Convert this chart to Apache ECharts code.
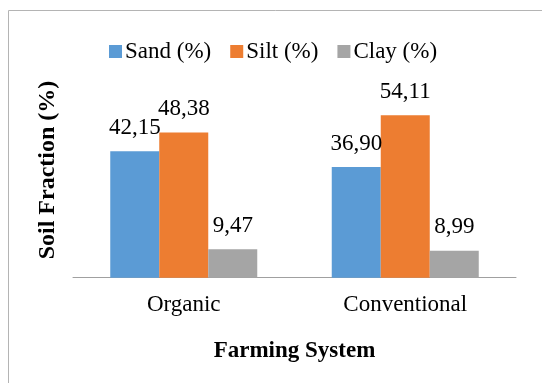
<!DOCTYPE html>
<html>
<head>
<meta charset="utf-8">
<style>
  html, body { margin: 0; padding: 0; background: #fff; }
  #chart { width: 542px; height: 383px; }
</style>
<script src="https://cdn.jsdelivr.net/npm/echarts@6/dist/echarts.min.js"></script>
</head>
<body>
<div id="chart"></div>
<script>
// Soil texture fractions by farming system
const categories = ['Organic', 'Conventional'];
const seriesNames = ['Sand (%)', 'Silt (%)', 'Clay (%)'];
const sand = [42.15, 36.90];
const silt = [48.38, 54.11];
const clay = [9.47, 8.99];
const colors = ['#5B9BD5', '#ED7D31', '#A5A5A5'];

const FONT = "'Liberation Serif', 'Times New Roman', serif";

const chart = echarts.init(document.getElementById('chart'), null, { renderer: 'canvas' });

function makeSeries(name, data, color) {
  return {
    name: name,
    type: 'bar',
    data: data,
    barWidth: 49,
    barGap: '0%',
    itemStyle: { color: color },
    label: {
      show: true,
      position: 'top',
      distance: 12,
      fontFamily: FONT,
      fontSize: 23,
      color: '#000',
      formatter: p => p.value.toFixed(2).replace('.', ',')
    }
  };
}

chart.setOption({
  animation: false,
  textStyle: { fontFamily: FONT },
  graphic: [
    {
      type: 'rect',
      shape: { x: 8.5, y: 10.5, width: 620, height: 420 },
      style: { fill: 'none', stroke: '#b4b4b4', lineWidth: 1 },
      silent: true,
      z: -10
    },
    {
      type: 'text',
      x: 48,
      y: 170,
      rotation: Math.PI / 2,
      style: {
        text: 'Soil Fraction (%)',
        fontFamily: FONT,
        fontSize: 24,
        fontWeight: 'bold',
        fill: '#000',
        align: 'center',
        verticalAlign: 'middle'
      }
    }
  ],
  legend: {
    data: seriesNames,
    left: 104,
    top: 35,
    itemWidth: 13,
    itemHeight: 13,
    itemGap: 19,
    icon: 'rect',
    textStyle: { fontFamily: FONT, fontSize: 23, color: '#000', padding: [0, 0, 0, -2] }
  },
  grid: { left: 73, right: 26, top: 97.7, bottom: 105.3, containLabel: false },
  xAxis: {
    type: 'category',
    data: categories,
    name: 'Farming System',
    nameLocation: 'middle',
    nameGap: 62,
    nameTextStyle: { fontFamily: FONT, fontSize: 23, fontWeight: 'bold', color: '#000' },
    axisLine: { lineStyle: { color: '#a0a0a0', width: 1 } },
    axisTick: { show: false },
    axisLabel: { fontFamily: FONT, fontSize: 23, color: '#000', margin: 16 }
  },
  yAxis: {
    type: 'value',
    min: 0,
    max: 60,
    show: false,
    splitLine: { show: false }
  },
  series: [
    makeSeries(seriesNames[0], sand, colors[0]),
    makeSeries(seriesNames[1], silt, colors[1]),
    makeSeries(seriesNames[2], clay, colors[2])
  ]
});
</script>
</body>
</html>
